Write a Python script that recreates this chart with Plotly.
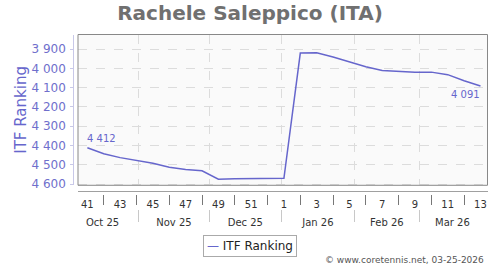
import datetime as dt
import plotly.graph_objects as go

# ---------------- data ----------------
weeks = [41, 42, 43, 44, 45, 46, 47, 48, 49, 50, 51, 52,
         1, 2, 3, 4, 5, 6, 7, 8, 9, 10, 11, 12, 13]
week_years = [2025] * 12 + [2026] * 13
ranking = [4412, 4443, 4463, 4479, 4492, 4513, 4524, 4531, 4575, 4573, 4571, 4570,
           4570, 3920, 3919, 3940, 3966, 3991, 4010, 4016, 4019, 4019, 4032, 4064, 4091]
y_ticks = [3900, 4000, 4100, 4200, 4300, 4400, 4500, 4600]
month_starts = ["2025-11-01", "2025-12-01", "2026-01-01", "2026-02-01", "2026-03-01"]
x_range = ["2025-10-06", "2026-03-30"]
y_range = [4606.6, 3823.7]
title_text = "Rachele Saleppico (ITA)"
series_name = "ITF Ranking"
credit = "© www.coretennis.net, 03-25-2026"

# ---------------- derived ----------------
dates = [dt.date.fromisocalendar(y, w, 5) for y, w in zip(week_years, weeks)]
lab_dates = [d for d, w in zip(dates, weeks) if w % 2 == 1]
lab_text = [str(w) for w in weeks if w % 2 == 1]
sep_dates = [d for d, w in zip(dates, weeks) if w % 2 == 0]
fmt = lambda v: f"{v:,}".replace(",", " ")

W, H = 500, 270
px = lambda v: v / W
py = lambda v: 1 - v / H
XL, XR = px(78), px(487.5)
YB, YT = py(189.5), py(35.3)

FONT = "DejaVu Sans"
LINE = "#6666cc"
TICKC = "#6f6fcc"

fig = go.Figure()
fig.add_trace(go.Scatter(x=dates, y=ranking, mode="lines", name=series_name,
                         line=dict(color=LINE, width=1.5), showlegend=False))
# invisible companions so that the helper x axes (week labels, separators, months) get drawn
for ax in ("x2", "x3", "x4"):
    fig.add_trace(go.Scatter(x=dates, y=ranking, xaxis=ax, yaxis="y", mode="lines",
                             line=dict(width=0, color="rgba(0,0,0,0)"), opacity=0,
                             hoverinfo="skip", showlegend=False))

common = dict(type="date", range=x_range, showgrid=False, zeroline=False)

fig.update_layout(
    width=W, height=H,
    margin=dict(l=0, r=0, t=0, b=0),
    paper_bgcolor="white", plot_bgcolor="#fafafa",
    font=dict(family=FONT, color="#333"),
    showlegend=False,
    title=dict(text=title_text, x=0.5, xanchor="center", y=py(12.5), yanchor="middle",
               font=dict(family=FONT, size=20, color="#707070", weight="bold")),
    xaxis=dict(domain=[XL, XR], anchor="y", tickvals=month_starts, showticklabels=False,
               ticks="", showline=False, **{**common, "showgrid": True},
               gridcolor="#dcdcdc", griddash="dash", gridwidth=1),
    xaxis2=dict(overlaying="x", anchor="free", position=py(195.7), tickvals=lab_dates,
                ticktext=lab_text, ticks="", showline=True, linecolor="#a0a0a0",
                ticklabelstandoff=4,
                tickfont=dict(size=10, color="#333"), **common),
    xaxis3=dict(overlaying="x", anchor="free", position=py(198.3), tickvals=sep_dates,
                showticklabels=False, ticks="outside", ticklen=10, tickcolor="#777",
                tickwidth=1, showline=False, **common),
    xaxis4=dict(overlaying="x", anchor="free", position=py(213.3), dtick="M1",
                tick0="2025-10-01", tickformat="%b %y", ticklabelmode="period",
                ticks="outside", ticklen=12, tickcolor="#c8c8c8", showline=False,
                ticklabelstandoff=-8,
                tickfont=dict(size=10, color="#333"), **common),
    yaxis=dict(domain=[YB, YT], anchor="free", position=px(73.3), range=y_range,
               tickvals=y_ticks, ticktext=[fmt(v) for v in y_ticks],
               ticks="outside", ticklen=3, tickcolor="#c8c8e8",
               showline=True, linecolor="#c8c8e8", zeroline=False,
               showgrid=True, gridcolor="#dcdcdc", griddash="dash",
               ticklabelstandoff=2,
               tickfont=dict(size=12, color=TICKC),
               title=dict(text=series_name, font=dict(size=15, color=LINE), standoff=0)),
)

# plot frame
fig.add_shape(type="rect", xref="x domain", yref="y domain", x0=0, x1=1, y0=0, y1=1,
              line=dict(color="#888", width=1), fillcolor="rgba(0,0,0,0)", layer="above")

# first / last value labels
fig.add_annotation(x=dates[0], y=ranking[0], text=fmt(ranking[0]), showarrow=False,
                   xanchor="left", yanchor="middle", yshift=9, xshift=-2,
                   font=dict(size=10, color=LINE))
fig.add_annotation(x=dates[-1], y=ranking[-1], text=fmt(ranking[-1]), showarrow=False,
                   xanchor="right", yanchor="middle", yshift=-9, xshift=2,
                   font=dict(size=10, color=LINE))

# legend box
fig.add_annotation(xref="paper", yref="paper", x=px(249.5), y=py(251.5),
                   text=f"<span style='color:{LINE}'>—</span> {series_name}",
                   showarrow=False, xanchor="center", yanchor="middle",
                   font=dict(size=12, color="#222"), bordercolor="#aaa",
                   borderwidth=1, borderpad=3, bgcolor="white")

# credit
fig.add_annotation(xref="paper", yref="paper", x=px(485.5), y=py(265.7), text=credit,
                   showarrow=False, xanchor="right", yanchor="middle",
                   font=dict(size=9, color="#555"))

fig.write_html("out.html")
